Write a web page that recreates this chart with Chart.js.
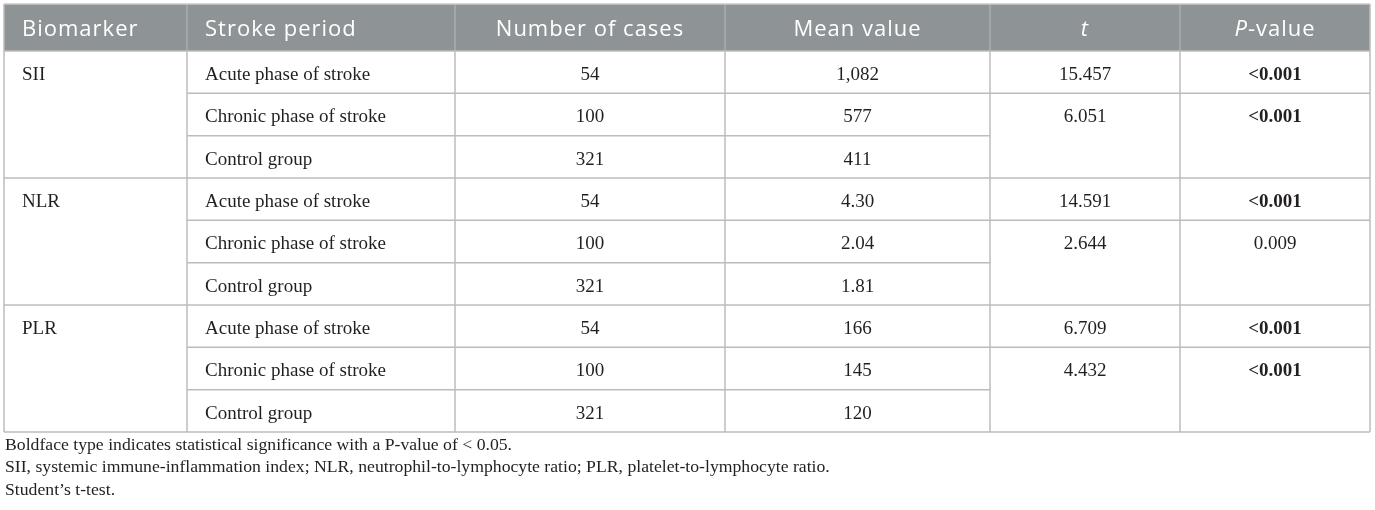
<!DOCTYPE html>
<html>
<head>
<meta charset="utf-8">
<script src="https://cdn.jsdelivr.net/npm/chart.js@4.4.1/dist/chart.umd.min.js"></script>
<style>
  html, body { margin: 0; padding: 0; background: #fff; }
  #wrap { width: 1375px; height: 510px; }
</style>
</head>
<body>
<div id="wrap"><canvas id="canvas_table"></canvas></div>
<script>
// table content
var headers = ['Biomarker', 'Stroke period', 'Number of cases', 'Mean value', 't', 'P-value'];
var biomarkers = ['SII', 'NLR', 'PLR'];
var periods = ['Acute phase of stroke', 'Chronic phase of stroke', 'Control group'];
var cases = [54, 100, 321];
var meanSII = [1082, 577, 411];
var meanNLR = [4.30, 2.04, 1.81];
var meanPLR = [166, 145, 120];
var meanDecimals = [0, 2, 0];
var tSII = [15.457, 6.051];
var tNLR = [14.591, 2.644];
var tPLR = [6.709, 4.432];
var pSII = ['<0.001', '<0.001'];
var pNLR = ['<0.001', '0.009'];
var pPLR = ['<0.001', '<0.001'];
var notes = [
  'Boldface type indicates statistical significance with a P-value of < 0.05.',
  'SII, systemic immune-inflammation index; NLR, neutrophil-to-lymphocyte ratio; PLR, platelet-to-lymphocyte ratio.',
  'Student\u2019s t-test.'
];

var meanAll = [meanSII, meanNLR, meanPLR];
var tAll = [tSII, tNLR, tPLR];
var pAll = [pSII, pNLR, pPLR];

// layout of the grid (x scale units = px of table width, y scale units = rows)
var colEdges = [0, 183, 451, 721, 986, 1176, 1366];
var headerRows = 1.11;
var totalRows = biomarkers.length * periods.length;

var serif = '"Liberation Serif", "DejaVu Serif", serif';
var sans = '"Open Sans", Lato, sans-serif';
var headFont = '400 22px ' + sans;
var headFontI = 'italic 400 22px ' + sans;
var bodyFont = '19px ' + serif;

function fmtMean(v, dec) {
  if (dec == 0) return v.toLocaleString('en-US');
  return v.toFixed(dec);
}

var tablePlugin = {
  id: 'tablePlugin',
  afterDraw: function(chart) {
    var ctx = chart.ctx;
    var xs = chart.scales.x, ys = chart.scales.y;
    var X = function(c) { return xs.getPixelForValue(colEdges[c]); };
    var Y = function(r) { return ys.getPixelForValue(r); };
    var left = X(0), right = X(colEdges.length - 1);
    var top = Y(-headerRows), bottom = Y(totalRows);
    ctx.save();

    // header band
    ctx.fillStyle = '#8e9496';
    ctx.fillRect(left, top, right - left, Y(0) - top);
    ctx.strokeStyle = '#a9aeb0';
    ctx.lineWidth = 1.5;
    for (var c = 1; c < colEdges.length - 1; c++) {
      ctx.beginPath(); ctx.moveTo(X(c), top); ctx.lineTo(X(c), Y(0)); ctx.stroke();
    }
    ctx.fillStyle = '#ffffff';
    ctx.textBaseline = 'middle';
    ctx.letterSpacing = '1px';
    var hy = (top + Y(0)) / 2 + 2.5;
    for (var h in headers) {
      if (h < 2) {
        ctx.font = headFont;
        ctx.textAlign = 'left';
        ctx.fillText(headers[h], X(h) + 18, hy);
      } else if (h == 5) {
        var cx = (X(5) + X(6)) / 2;
        ctx.font = headFontI;
        var w1 = ctx.measureText('P').width;
        ctx.font = headFont;
        var w2 = ctx.measureText('-value').width;
        ctx.textAlign = 'left';
        ctx.font = headFontI;
        ctx.fillText('P', cx - (w1 + w2) / 2, hy);
        ctx.font = headFont;
        ctx.fillText('-value', cx - (w1 + w2) / 2 + w1, hy);
      } else {
        ctx.font = (h == 4) ? headFontI : headFont;
        ctx.textAlign = 'center';
        ctx.fillText(headers[h], (X(h) + X(+h + 1)) / 2, hy);
      }
    }
    ctx.letterSpacing = '0px';

    // grid lines of the body
    ctx.lineWidth = 1.5;
    function hline(r, c0, c1) {
      ctx.beginPath(); ctx.moveTo(X(c0), Y(r)); ctx.lineTo(X(c1), Y(r)); ctx.stroke();
    }
    function vline(c, r0, r1) {
      ctx.beginPath(); ctx.moveTo(X(c), Y(r0)); ctx.lineTo(X(c), Y(r1)); ctx.stroke();
    }
    ctx.strokeStyle = '#c8c8c8';
    hline(-headerRows, 0, 6);
    ctx.strokeStyle = '#bcbcbc';
    for (var c2 = 0; c2 < colEdges.length; c2++) vline(c2, 0, totalRows);
    vline(0, -headerRows, 0); vline(6, -headerRows, 0);
    for (var g = 0; g <= biomarkers.length; g++) hline(g * 3, 0, 6);
    for (var g2 = 0; g2 < biomarkers.length; g2++) {
      hline(g2 * 3 + 1, 1, 6);
      hline(g2 * 3 + 2, 1, 4);
    }

    // body text
    ctx.fillStyle = '#231f20';
    ctx.textBaseline = 'middle';
    for (var b = 0; b < biomarkers.length; b++) {
      for (var p = 0; p < periods.length; p++) {
        var r = b * 3 + p;
        var cy = (Y(r) + Y(r + 1)) / 2 + 3;
        ctx.font = bodyFont;
        ctx.textAlign = 'left';
        if (p == 0) ctx.fillText(biomarkers[b], X(0) + 18, cy);
        ctx.fillText(periods[p], X(1) + 18, cy);
        ctx.textAlign = 'center';
        ctx.fillText(String(cases[p]), (X(2) + X(3)) / 2, cy);
        ctx.fillText(fmtMean(meanAll[b][p], meanDecimals[b]), (X(3) + X(4)) / 2, cy);
        if (p < 2) {
          ctx.fillText(tAll[b][p].toFixed(3), (X(4) + X(5)) / 2, cy);
          var pv = pAll[b][p];
          // the picture sets only the "<0.001" entries in bold
          ctx.font = (pv.charAt(0) == '<' ? 'bold ' : '') + bodyFont;
          ctx.fillText(pv, (X(5) + X(6)) / 2, cy);
        }
      }
    }

    // footnotes
    ctx.font = '17.7px ' + serif;
    ctx.textAlign = 'left';
    ctx.fillStyle = '#231f20';
    for (var n in notes) {
      ctx.fillText(notes[n], left + 1, bottom + 13 + n * 22.5);
    }
    ctx.restore();
  }
};

var configTable = {
  type: 'scatter',
  data: { datasets: [{ data: [], showLine: false }] },
  options: {
    responsive: true,
    maintainAspectRatio: false,
    animation: false,
    events: [],
    layout: { padding: { left: 4, top: 4, right: 5, bottom: 78 } },
    plugins: { legend: { display: false }, tooltip: { enabled: false }, title: { display: false } },
    scales: {
      x: { type: 'linear', display: false, min: colEdges[0], max: colEdges[colEdges.length - 1] },
      y: { type: 'linear', display: false, reverse: true, min: -headerRows, max: totalRows }
    }
  },
  plugins: [tablePlugin]
};

var ctx_table = document.getElementById('canvas_table').getContext('2d');
new Chart(ctx_table, configTable);
</script>
</body>
</html>
